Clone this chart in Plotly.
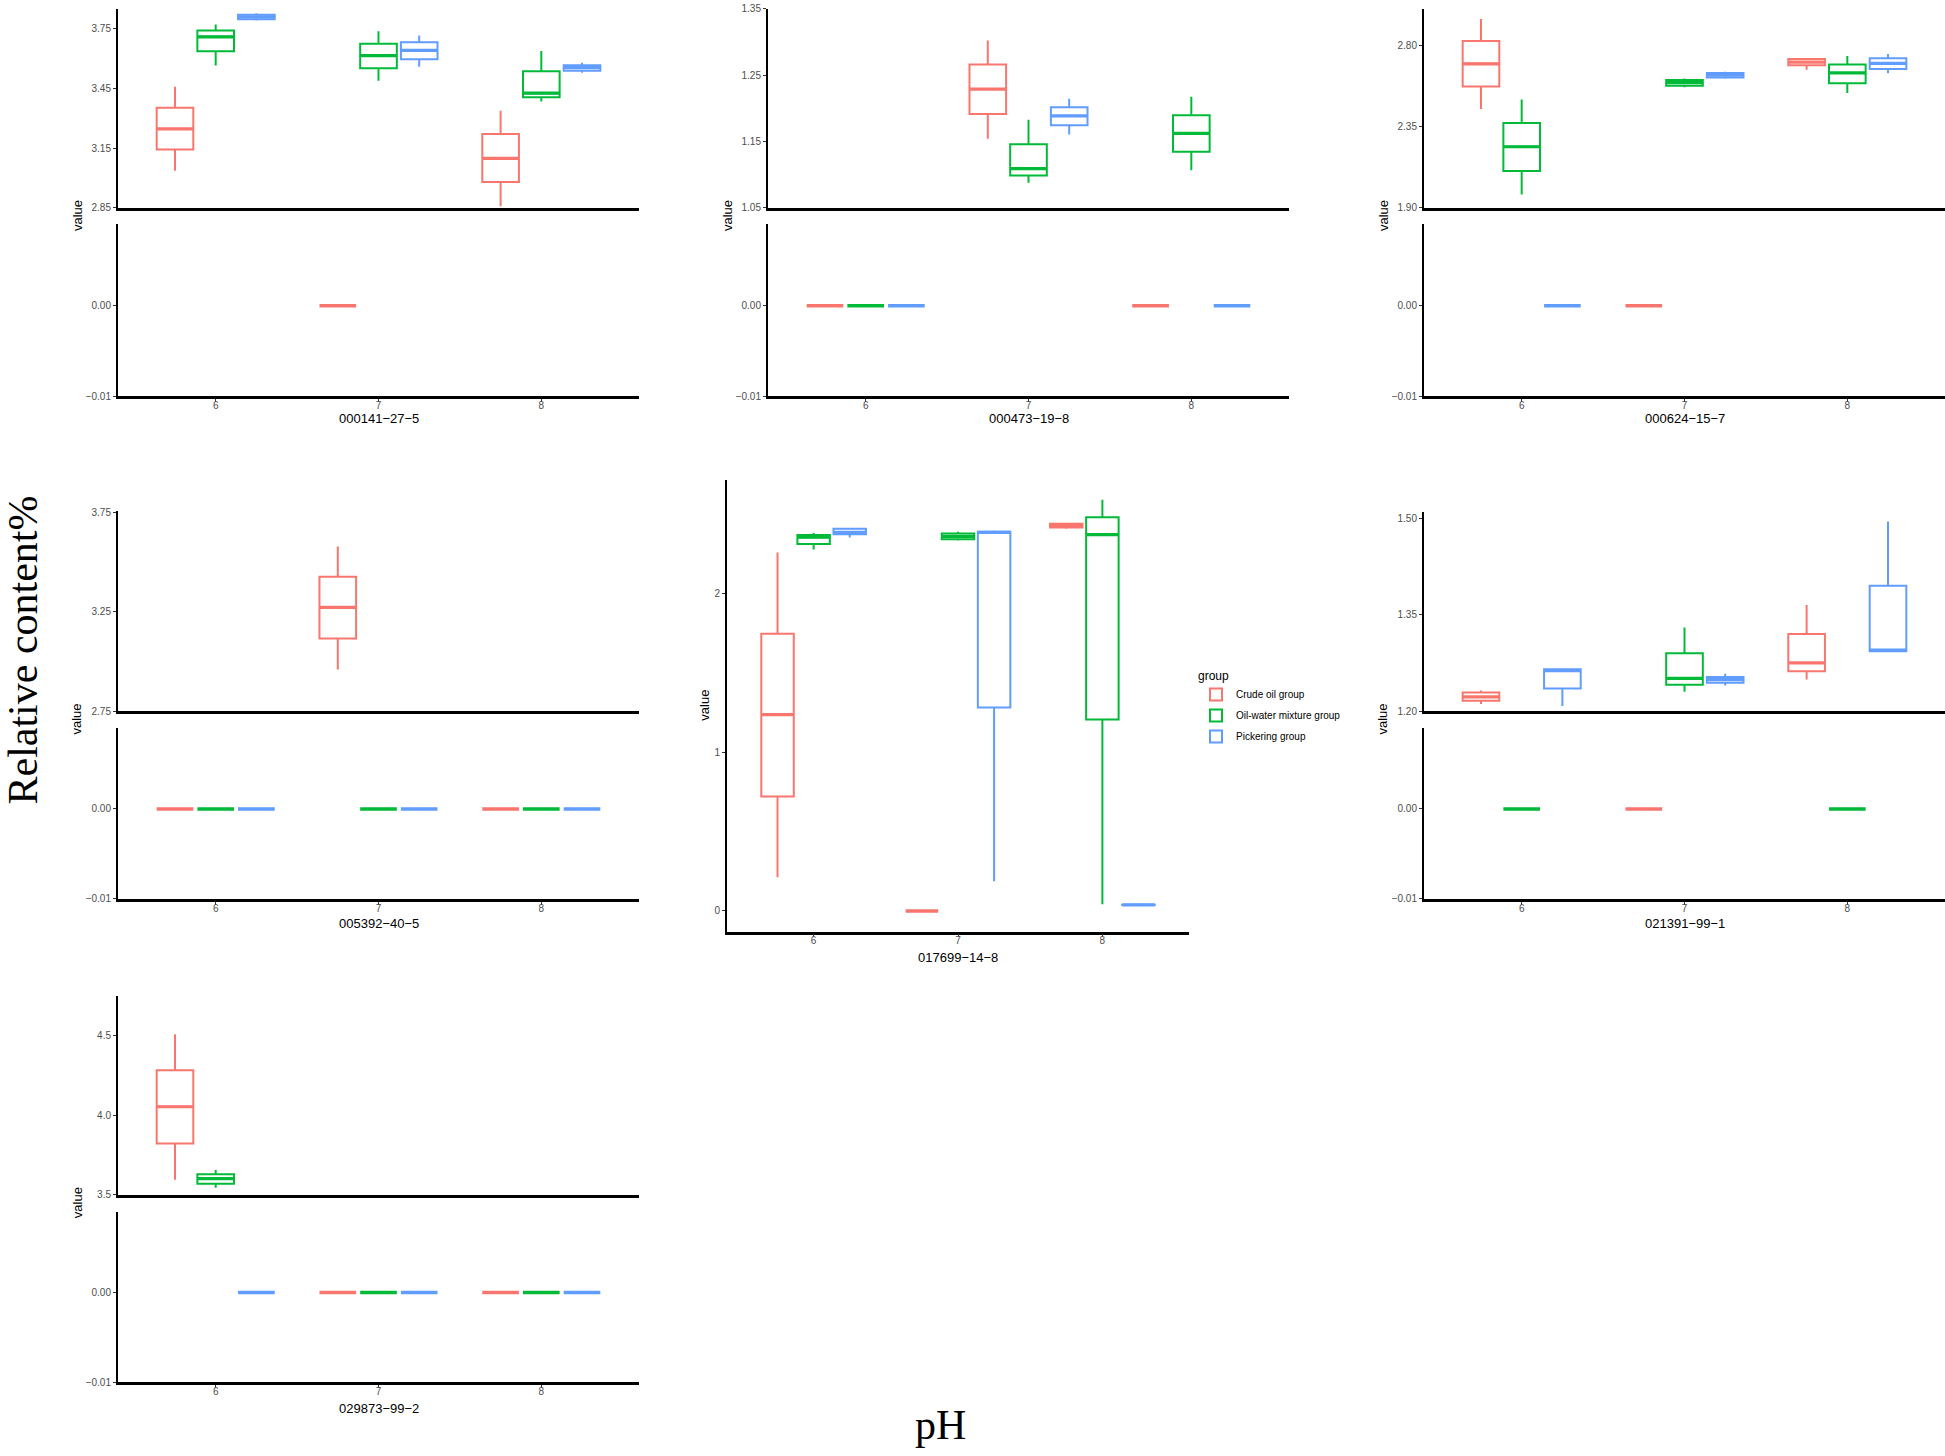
import plotly.graph_objects as go

# ---------------- data ----------------
PH = [6, 7, 8]
GROUPS = ["Crude oil group", "Oil-water mixture group", "Pickering group"]
COLORS = ["#F8766D", "#00BA38", "#619CFF"]
COMPOUNDS = ["000141-27-5", "000473-19-8", "000624-15-7",
             "005392-40-5", "017699-14-8", "021391-99-1", "029873-99-2"]

# each row: [pH, lower whisker, q1, median, q3, upper whisker]
C000141_CRUDE = [[6, 3.035, 3.142, 3.246, 3.353, 3.459], [7, 0, 0, 0, 0, 0], [8, 2.857, 2.979, 3.098, 3.221, 3.338]]
C000141_OILWATER = [[6, 3.566, 3.637, 3.710, 3.742, 3.772], [7, 3.489, 3.552, 3.615, 3.675, 3.738], [8, 3.384, 3.406, 3.426, 3.536, 3.639]]
C000141_PICKERING = [[6, 3.792, 3.798, 3.810, 3.821, 3.828], [7, 3.559, 3.597, 3.642, 3.682, 3.717], [8, 3.529, 3.539, 3.555, 3.567, 3.579]]

C000473_CRUDE = [[6, 0, 0, 0, 0, 0], [7, 1.154, 1.1915, 1.229, 1.266, 1.3025], [8, 0, 0, 0, 0, 0]]
C000473_OILWATER = [[6, 0, 0, 0, 0, 0], [7, 1.0875, 1.0985, 1.109, 1.1455, 1.1825], [8, 1.1065, 1.1345, 1.162, 1.1895, 1.2175]]
C000473_PICKERING = [[6, 0, 0, 0, 0, 0], [7, 1.1605, 1.1745, 1.1885, 1.2015, 1.2145], [8, 0, 0, 0, 0, 0]]

C000624_CRUDE = [[6, 2.446, 2.571, 2.696, 2.822, 2.945], [7, 0, 0, 0, 0, 0], [8, 2.663, 2.688, 2.706, 2.723, 2.725]]
C000624_OILWATER = [[6, 1.973, 2.103, 2.237, 2.369, 2.498], [7, 2.567, 2.575, 2.592, 2.607, 2.615], [8, 2.534, 2.589, 2.646, 2.692, 2.740]]
C000624_PICKERING = [[6, 0, 0, 0, 0, 0], [7, 2.613, 2.620, 2.634, 2.646, 2.653], [8, 2.644, 2.668, 2.699, 2.727, 2.751]]

C005392_CRUDE = [[6, 0, 0, 0, 0, 0], [7, 2.959, 3.115, 3.272, 3.427, 3.579], [8, 0, 0, 0, 0, 0]]
C005392_OILWATER = [[6, 0, 0, 0, 0, 0], [7, 0, 0, 0, 0, 0], [8, 0, 0, 0, 0, 0]]
C005392_PICKERING = [[6, 0, 0, 0, 0, 0], [7, 0, 0, 0, 0, 0], [8, 0, 0, 0, 0, 0]]

C017699_CRUDE = [[6, 0.213, 0.722, 1.238, 1.749, 2.261], [7, 0, 0, 0, 0, 0], [8, 2.411, 2.418, 2.432, 2.443, 2.449]]
C017699_OILWATER = [[6, 2.280, 2.315, 2.357, 2.372, 2.384], [7, 2.336, 2.344, 2.363, 2.380, 2.392], [8, 0.042, 1.207, 2.374, 2.484, 2.593]]
C017699_PICKERING = [[6, 2.355, 2.376, 2.388, 2.411, 2.413], [7, 0.188, 1.284, 2.388, 2.392, 2.399], [8, 0.036, 0.037, 0.038, 0.039, 0.040]]

C021391_CRUDE = [[6, 1.211, 1.216, 1.222, 1.229, 1.232], [7, 0, 0, 0, 0, 0], [8, 1.249, 1.262, 1.275, 1.320, 1.365]]
C021391_OILWATER = [[6, 0, 0, 0, 0, 0], [7, 1.230, 1.241, 1.251, 1.290, 1.330], [8, 0, 0, 0, 0, 0]]
C021391_PICKERING = [[6, 1.208, 1.235, 1.263, 1.265, 1.265], [7, 1.240, 1.244, 1.249, 1.253, 1.258], [8, 1.293, 1.293, 1.295, 1.395, 1.495]]

C029873_CRUDE = [[6, 3.594, 3.823, 4.054, 4.283, 4.510], [7, 0, 0, 0, 0, 0], [8, 0, 0, 0, 0, 0]]
C029873_OILWATER = [[6, 3.544, 3.569, 3.602, 3.629, 3.656], [7, 0, 0, 0, 0, 0], [8, 0, 0, 0, 0, 0]]
C029873_PICKERING = [[6, 0, 0, 0, 0, 0], [7, 0, 0, 0, 0, 0], [8, 0, 0, 0, 0, 0]]

DATA = {
    "000141-27-5": [C000141_CRUDE, C000141_OILWATER, C000141_PICKERING],
    "000473-19-8": [C000473_CRUDE, C000473_OILWATER, C000473_PICKERING],
    "000624-15-7": [C000624_CRUDE, C000624_OILWATER, C000624_PICKERING],
    "005392-40-5": [C005392_CRUDE, C005392_OILWATER, C005392_PICKERING],
    "017699-14-8": [C017699_CRUDE, C017699_OILWATER, C017699_PICKERING],
    "021391-99-1": [C021391_CRUDE, C021391_OILWATER, C021391_PICKERING],
    "029873-99-2": [C029873_CRUDE, C029873_OILWATER, C029873_PICKERING],
}

# upper-segment y ranges and tick labels
TOP_RANGE = {
    "000141-27-5": [2.85, 3.85], "000473-19-8": [1.05, 1.35], "000624-15-7": [1.90, 3.00],
    "005392-40-5": [2.75, 3.755], "017699-14-8": [-0.13, 2.72], "021391-99-1": [1.20, 1.509],
    "029873-99-2": [3.5, 4.75],
}
TOP_TICKS = {
    "000141-27-5": ["2.85", "3.15", "3.45", "3.75"],
    "000473-19-8": ["1.05", "1.15", "1.25", "1.35"],
    "000624-15-7": ["1.90", "2.35", "2.80"],
    "005392-40-5": ["2.75", "3.25", "3.75"],
    "017699-14-8": ["0", "1", "2"],
    "021391-99-1": ["1.20", "1.35", "1.50"],
    "029873-99-2": ["3.5", "4.0", "4.5"],
}
BOTTOM_RANGE = [-0.01, 0.009]
BOTTOM_TICKS = ["-0.01", "0.00"]

# ---------------- layout (pixel positions) ----------------
W, H = 1945, 1456
PANELS = {
    "000141-27-5": dict(x=(118, 639), top=(5, 205), bot=(222, 395), ty=417),
    "000473-19-8": dict(x=(768, 1289), top=(5, 205), bot=(222, 395), ty=417),
    "000624-15-7": dict(x=(1424, 1945), top=(5, 205), bot=(222, 395), ty=417),
    "005392-40-5": dict(x=(118, 639), top=(511, 712), bot=(729, 901), ty=926),
    "017699-14-8": dict(x=(727, 1189), top=(479, 934), bot=None, ty=960),
    "021391-99-1": dict(x=(1424, 1945), top=(512, 712), bot=(729, 901), ty=926),
    "029873-99-2": dict(x=(118, 639), top=(999, 1199), bot=(1216, 1388), ty=1414),
}
DODGE = [-0.25, 0.0, 0.25]
BOX_W = 0.225
XR = [5.4, 8.6]
FONT = "Liberation Sans, Arial, sans-serif"
TICKFONT = dict(family=FONT, size=10, color="#4D4D4D")


def xd(a, b):
    return [a / W, min(b / W, 1.0)]


def yd(top, bot):
    return [1 - bot / H, 1 - top / H]


def lab(v):
    return v.replace("-", "\u2212")


fig = go.Figure()
layout = {}
annotations = []
axn = [0]
legend_done = set()
legend_panel = [False]


def new_axes(xdom, ydom, yrange, ytick_labels, show_x):
    axn[0] += 1
    n = axn[0]
    s = "" if n == 1 else str(n)
    layout["xaxis" + s] = dict(
        domain=xdom, anchor="y" + s, range=XR, showline=True, linecolor="black",
        linewidth=2.5, showgrid=False, zeroline=False,
        ticks="outside" if show_x else "", ticklen=3, tickwidth=1, tickcolor="#333333",
        tickvals=PH if show_x else [], ticktext=[str(p) for p in PH] if show_x else [],
        showticklabels=show_x, tickfont=TICKFONT, ticklabelstandoff=-5,
    )
    layout["yaxis" + s] = dict(
        domain=ydom, anchor="x" + s, range=yrange, showline=True, linecolor="black",
        linewidth=2, showgrid=False, zeroline=False, ticks="outside", ticklen=3,
        tickwidth=1, tickcolor="#333333",
        tickvals=[float(t) for t in ytick_labels], ticktext=[lab(t) for t in ytick_labels],
        tickfont=TICKFONT,
    )
    return "x" + s, "y" + s


def box_trace(part, gi, lw, xa, ya, show, median_only=False):
    g = GROUPS[gi]
    if median_only:
        lo = q1 = q3 = hi = [r[3] for r in part]
    else:
        lo, q1, q3, hi = ([r[1] for r in part], [r[2] for r in part],
                          [r[4] for r in part], [r[5] for r in part])
    return go.Box(
        x=[r[0] + DODGE[gi] for r in part],
        lowerfence=lo, q1=q1, median=[r[3] for r in part], q3=q3, upperfence=hi,
        width=BOX_W, whiskerwidth=0, boxpoints=False,
        line=dict(color=COLORS[gi], width=lw), fillcolor="white",
        name=g, legendgroup=g, legendrank=gi + 1, showlegend=show,
        xaxis=xa, yaxis=ya, hoverinfo="skip",
    )


def add_boxes(rows_by_group, xa, ya, keep):
    for gi, rows in enumerate(rows_by_group):
        g = GROUPS[gi]
        sel = [r for r in rows if keep(r)]
        flat = [r for r in sel if r[5] - r[1] == 0]
        tall = [r for r in sel if r[5] - r[1] != 0]
        if tall:
            show = legend_panel[0] and g not in legend_done
            if show:
                legend_done.add(g)
            fig.add_trace(box_trace(tall, gi, 2, xa, ya, show))
            # ggplot draws the median line thicker than the box outline
            fig.add_trace(box_trace(tall, gi, 3.2, xa, ya, False, median_only=True))
        if flat:
            fig.add_trace(box_trace(flat, gi, 3.5, xa, ya, False))


for comp in COMPOUNDS:
    p = PANELS[comp]
    rows = DATA[comp]
    xdom = xd(*p["x"])
    cx = (p["x"][0] + p["x"][1]) / 2
    if p["bot"] is None:
        legend_panel[0] = True
        xa, ya = new_axes(xdom, yd(*p["top"]), TOP_RANGE[comp], TOP_TICKS[comp], True)
        add_boxes(rows, xa, ya, lambda r: True)
        legend_panel[0] = False
        vy = (p["top"][0] + p["top"][1]) / 2
        vx = p["x"][0] - 22
    else:
        xa, ya = new_axes(xdom, yd(*p["top"]), TOP_RANGE[comp], TOP_TICKS[comp], False)
        add_boxes(rows, xa, ya, lambda r: r[3] != 0)
        xb, yb = new_axes(xdom, yd(*p["bot"]), BOTTOM_RANGE, BOTTOM_TICKS, True)
        add_boxes(rows, xb, yb, lambda r: r[3] == 0)
        vy = (p["top"][1] + p["bot"][0]) / 2
        vx = p["x"][0] - 41
    annotations.append(dict(text="value", x=vx / W, y=1 - vy / H, xref="paper", yref="paper",
                            textangle=-90, showarrow=False, xanchor="center", yanchor="middle",
                            font=dict(family=FONT, size=13, color="black")))
    annotations.append(dict(text=comp.replace("-", "\u2212"), x=cx / W, y=1 - p["ty"] / H,
                            xref="paper", yref="paper", showarrow=False,
                            xanchor="center", yanchor="middle",
                            font=dict(family=FONT, size=13, color="black")))

annotations.append(dict(text="Relative content%", x=23 / W, y=1 - 651 / H, xref="paper", yref="paper",
                        textangle=-90, showarrow=False, xanchor="center", yanchor="middle",
                        font=dict(family="Liberation Serif, Times New Roman, serif", size=42, color="black")))
annotations.append(dict(text="pH", x=940 / W, y=1 - 1431 / H, xref="paper", yref="paper",
                        showarrow=False, xanchor="center", yanchor="middle",
                        font=dict(family="Liberation Serif, Times New Roman, serif", size=42, color="black")))

fig.update_layout(
    width=W, height=H, autosize=False,
    margin=dict(l=0, r=0, t=0, b=0),
    paper_bgcolor="white", plot_bgcolor="white",
    font=dict(family=FONT, color="black"),
    showlegend=True,
    legend=dict(x=1196 / W, y=1 - 665 / H, xanchor="left", yanchor="top",
                title=dict(text="group", font=dict(family=FONT, size=12, color="black")),
                font=dict(family=FONT, size=10, color="black"),
                bgcolor="rgba(0,0,0,0)", traceorder="grouped", tracegroupgap=2),
    annotations=annotations,
    **layout,
)

fig.write_html("out.html", config={"displayModeBar": False},
               post_script="document.body.style.margin='0';")
